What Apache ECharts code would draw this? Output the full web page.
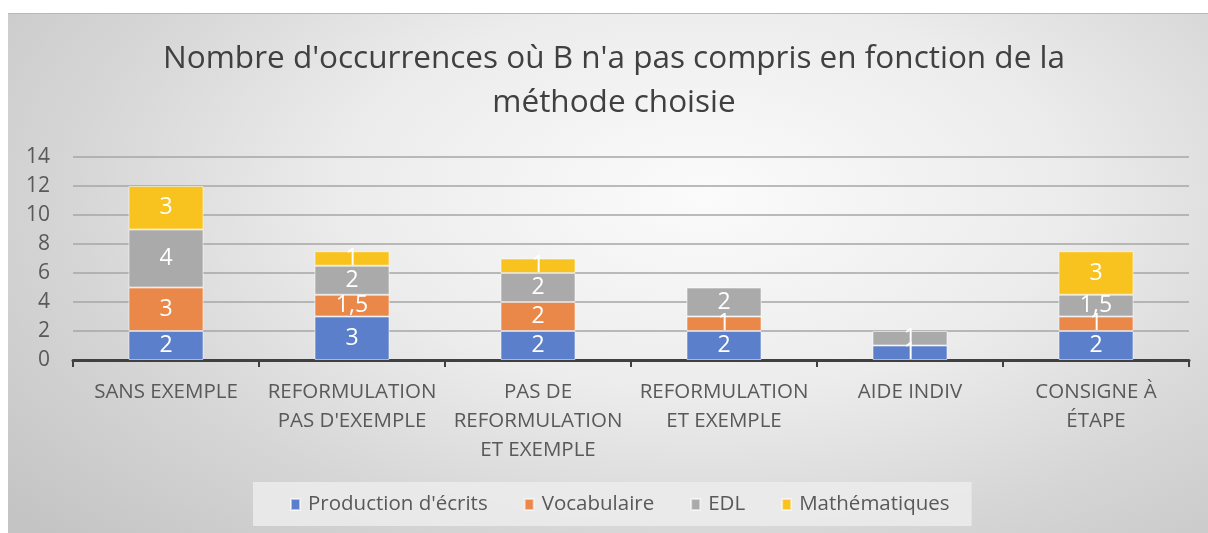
<!DOCTYPE html>
<html><head><meta charset="utf-8">
<script src="https://cdn.jsdelivr.net/npm/echarts@6/dist/echarts.min.js"></script>
<style>
html,body{margin:0;padding:0;background:#fff;width:1208px;height:533px;overflow:hidden}
#bg{position:absolute;left:8px;top:13px;width:1200px;height:519px;border-top:1px solid #b8b8b8;
background:radial-gradient(ellipse 75% 95% at 58% 35%, #fbfbfb 0%, #ececec 40%, #d6d6d6 70%, #c4c4c4 100%);}
#c{position:absolute;left:0;top:0;width:1208px;height:533px}
</style></head>
<body><div id="bg"></div><div id="c"></div>
<script>
const titleText = "Nombre d'occurrences où B n'a pas compris en fonction de la\nméthode choisie";
const categories = ["SANS EXEMPLE", "REFORMULATION\nPAS D'EXEMPLE", "PAS DE\nREFORMULATION\nET EXEMPLE", "REFORMULATION\nET EXEMPLE", "AIDE INDIV", "CONSIGNE À\nÉTAPE"];
const production = [2, 3, 2, 2, 1, 2];
const vocabulaire = [3, 1.5, 2, 1, null, 1];
const edl = [4, 2, 2, 2, 1, 1.5];
const mathematiques = [3, 1, 1, null, null, 3];
const seriesNames = ["Production d'écrits", "Vocabulaire", "EDL", "Mathématiques"];
const colors = ["#5b7fca", "#ea884a", "#aaaaaa", "#f8c31f"];
const yTicks = [0, 2, 4, 6, 8, 10, 12, 14];

const FONT = 'Open Sans';
const chart = echarts.init(document.getElementById('c'), null, {renderer: 'canvas'});
const seriesData = [production, vocabulaire, edl, mathematiques];
chart.setOption({
  backgroundColor: 'transparent',
  color: colors,
  graphic: [{
    type: 'text', x: 614, y: 37, z: 10,
    style: {text: titleText, textAlign: 'center', fontFamily: FONT, fontSize: 31.5,
            fill: '#404040', lineHeight: 44}
  }],
  grid: {left: 73, right: 19, top: 157, bottom: 173, containLabel: false},
  xAxis: {
    type: 'category', data: categories,
    axisLine: {lineStyle: {color: '#404040', width: 3}},
    axisTick: {show: true, length: 7, lineStyle: {color: '#404040', width: 2}},
    axisLabel: {fontFamily: FONT, fontSize: 20.5, color: '#595959', lineHeight: 29, margin: 18, interval: 0}
  },
  yAxis: {
    type: 'value', min: yTicks[0], max: yTicks[yTicks.length - 1], interval: 2,
    axisLine: {show: false}, axisTick: {show: false},
    axisLabel: {fontFamily: FONT, fontSize: 21, color: '#595959', margin: 23},
    splitLine: {lineStyle: {color: '#a6a6a6', width: 1.5}}
  },
  legend: {
    bottom: 7, left: 253,
    backgroundColor: 'rgba(236,236,236,0.85)',
    padding: [12, 22, 11, 37],
    itemWidth: 9, itemHeight: 11, itemGap: 36,
    icon: 'rect',
    textStyle: {fontFamily: FONT, fontSize: 20.5, color: '#595959', padding: [2, 0, 0, 3]},
    data: seriesNames
  },
  series: seriesNames.map((n, i) => ({
    name: n, type: 'bar', stack: 'total', barWidth: 75,
    data: seriesData[i],
    itemStyle: {color: colors[i], borderColor: 'rgba(255,255,255,0.55)', borderWidth: 1},
    label: {
      show: true, position: 'inside', color: '#ffffff', fontFamily: FONT, fontSize: 23,
      formatter: p => (p.value == null ? '' : String(p.value).replace('.', ','))
    }
  }))
});
</script></body></html>
